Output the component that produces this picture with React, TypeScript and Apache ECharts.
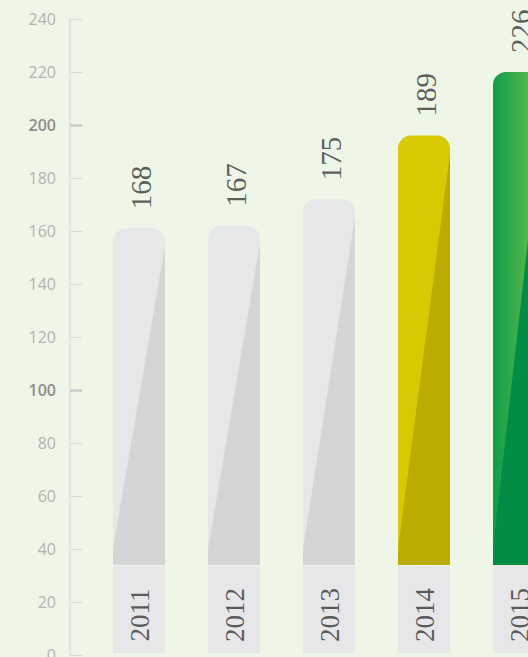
import React, { useEffect, useRef } from "react";
import * as echarts from "echarts";

const years = ["2011", "2012", "2013", "2014", "2015"];
const values = [168, 167, 175, 189, 226];
const barHeights = [161, 162, 172, 196, 220];
const yMin = 0;
const yMax = 240;
const yStep = 20;
const boldTicks = [100, 200];

const BASE = 34; // value where the bar body starts (label box below)

const palette = [
  { light: "#e6e7e9", dark: "#d4d5d7" },
  { light: "#e6e7e9", dark: "#d4d5d7" },
  { light: "#e6e7e9", dark: "#d4d5d7" },
  { light: "#d9c900", dark: "#bcac00" },
  { light: "gradient", dark: "#028c45" },
];

export default function App() {
  const ref = useRef<HTMLDivElement>(null);
  useEffect(() => {
    if (!ref.current) return;
    const chart = echarts.init(ref.current, null, { renderer: "svg" });
    const data = years.map((y, i) => [i, barHeights[i], values[i]]);
    const serif = "'Liberation Serif', serif";
    chart.setOption({
      animation: false,
      backgroundColor: "#eef6e8",
      grid: {
        left: 70,
        top: 19,
        bottom: 2,
        right: 0,
        outerBoundsMode: "none",
        containLabel: false,
      },
      xAxis: {
        type: "value",
        show: false,
        min: -69 / 95,
        max: (528 - 139) / 95,
      },
      yAxis: [
        {
          type: "value",
          min: yMin,
          max: yMax,
          interval: yStep,
          position: "left",
          splitLine: { show: false },
          axisLine: {
            show: true,
            onZero: false,
            lineStyle: { color: "#dcdde0", width: 1.5 },
          },
          axisTick: {
            show: true,
            inside: true,
            length: 12,
            lineStyle: { color: "#d8d9dc", width: 1 },
          },
          axisLabel: {
            margin: 14,
            color: "#b3b3b3",
            fontFamily: "Open Sans",
            fontSize: 16,
            formatter: (v: number) =>
              boldTicks.includes(v) ? `{b|${v}}` : `${v}`,
            rich: {
              b: {
                color: "#8e8e8e",
                fontFamily: "Open Sans",
                fontSize: 16,
                fontWeight: 600,
              },
            },
          },
        },
        {
          type: "value",
          min: yMin,
          max: yMax,
          interval: yStep,
          position: "left",
          offset: 0,
          splitLine: { show: false },
          axisLine: { show: false, onZero: false },
          axisLabel: { show: false },
          axisTick: {
            show: true,
            inside: true,
            length: 12,
            customValues: boldTicks,
            lineStyle: { color: "#c9cacd", width: 2.5 },
          },
        },
      ],
      series: [
        {
          type: "custom",
          clip: false,
          data,
          renderItem: (params: any, api: any) => {
            const i = api.value(0);
            const h = api.value(1);
            const [cx, yTop] = api.coord([i, h]);
            const yBody = api.coord([i, BASE])[1];
            const yZero = api.coord([i, 0])[1];
            const bw = 52;
            const x0 = cx - bw / 2;
            const x1 = cx + bw / 2;
            const pal = palette[i];
            const lightFill =
              pal.light === "gradient"
                ? new echarts.graphic.LinearGradient(0, 0, 1, 0, [
                    { offset: 0, color: "#0e9c47" },
                    { offset: 1, color: "#74c24d" },
                  ])
                : pal.light;
            return {
              type: "group",
              children: [
                {
                  type: "rect",
                  shape: {
                    x: x0,
                    y: yTop,
                    width: bw,
                    height: yBody - yTop,
                    r: [13, 13, 0, 0],
                  },
                  style: { fill: lightFill },
                },
                {
                  type: "polygon",
                  shape: {
                    points: [
                      [x0, yBody - 16],
                      [x1, yTop + 18],
                      [x1, yBody],
                      [x0, yBody],
                    ],
                  },
                  style: { fill: pal.dark },
                },
                {
                  type: "rect",
                  shape: {
                    x: x0,
                    y: yBody + 1,
                    width: bw,
                    height: yZero - 2 - (yBody + 1),
                  },
                  style: { fill: "#e7e7ea" },
                },
              ],
            };
          },
        },
        {
          type: "scatter",
          data: data.map((d) => [d[0] + 0.02, d[1], d[2]]),
          symbolSize: 0,
          z: 5,
          silent: true,
          label: {
            show: true,
            position: "top",
            distance: 19,
            rotate: 90,
            align: "left",
            verticalAlign: "middle",
            color: "#353535",
            fontFamily: serif,
            fontSize: 29,
            formatter: (p: any) => String(p.value[2]),
          },
        },
        {
          type: "scatter",
          data: years.map((y, i) => [i + 0.01, 0, y]),
          symbolSize: 0,
          z: 5,
          silent: true,
          label: {
            show: true,
            position: "top",
            distance: 40,
            rotate: 90,
            align: "center",
            verticalAlign: "middle",
            color: "#353535",
            fontFamily: serif,
            fontSize: 27,
            formatter: (p: any) => String(p.value[2]),
          },
        },
      ],
    });
    return () => chart.dispose();
  }, []);
  return (
    <div
      ref={ref}
      style={{ position: "fixed", left: 0, top: 0, width: 528, height: 657 }}
    />
  );
}
